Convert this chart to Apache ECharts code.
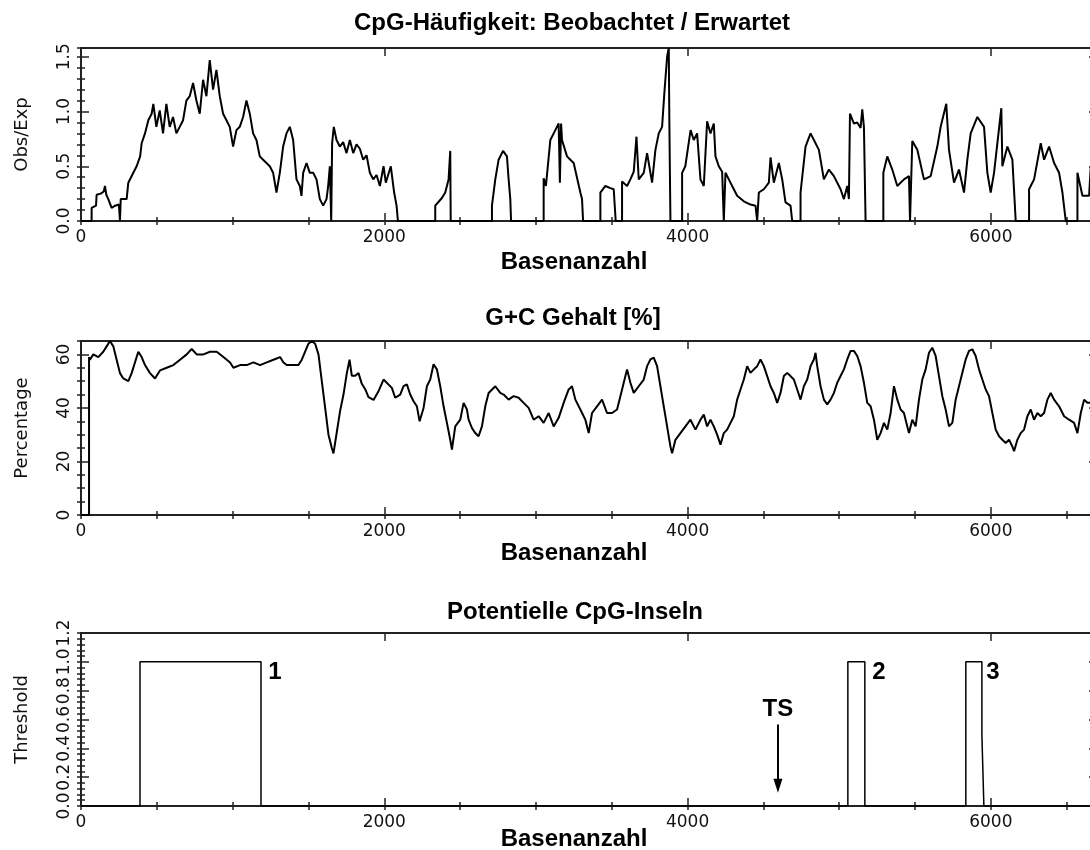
<!DOCTYPE html>
<html>
<head>
<meta charset="utf-8">
<title>CpG-Inseln</title>
<script src="https://cdn.jsdelivr.net/npm/echarts@6/dist/echarts.min.js"></script>
<style>
  html, body { margin: 0; padding: 0; background: #fff; overflow: hidden; }
  #main { width: 1110px; height: 850px; }
</style>
</head>
<body>
<div id="main"></div>
<script>
// CpG Obs/Exp entlang der Sequenz [Basenposition, Verhaeltnis]
var cpgPoints = [
  [0,0],[70,0],[70,0.12],[99,0.14],[103,0.24],[130,0.25],[150,0.27],[158,0.32],[167,0.24],[180,0.2],
  [202,0.12],[225,0.14],[250,0.15],[257,0],[262,0.2],[301,0.2],[312,0.35],[345,0.44],[367,0.5],[390,0.59],
  [400,0.71],[422,0.8],[444,0.92],[466,0.98],[477,1.07],[497,0.86],[519,1.01],[541,0.8],[563,1.07],[585,0.86],
  [607,0.95],[629,0.8],[651,0.86],[673,0.92],[695,1.1],[717,1.14],[739,1.26],[761,1.1],[783,0.98],[805,1.29],
  [827,1.14],[849,1.47],[871,1.2],[893,1.38],[915,1.14],[937,0.98],[959,0.92],[981,0.86],[1003,0.68],[1025,0.83],
  [1047,0.86],[1069,0.95],[1091,1.1],[1113,0.98],[1135,0.8],[1157,0.74],[1179,0.59],[1201,0.56],[1223,0.53],[1245,0.5],
  [1267,0.44],[1289,0.26],[1311,0.44],[1333,0.68],[1355,0.8],[1377,0.86],[1399,0.74],[1421,0.38],[1443,0.32],[1454,0.23],
  [1465,0.44],[1487,0.53],[1509,0.44],[1531,0.44],[1553,0.38],[1575,0.2],[1597,0.14],[1619,0.2],[1630,0.32],[1641,0.5],
  [1650,0],[1656,0.71],[1667,0.86],[1685,0.74],[1707,0.68],[1729,0.72],[1751,0.62],[1773,0.74],[1795,0.62],[1817,0.7],
  [1839,0.66],[1861,0.56],[1883,0.6],[1905,0.44],[1927,0.38],[1949,0.42],[1971,0.32],[1995,0.5],[2010,0.35],[2043,0.5],
  [2065,0.26],[2081,0.14],[2090,0],
  [2336,0],[2336,0.14],[2380,0.21],[2402,0.26],[2424,0.38],[2435,0.64],[2438,0],
  [2710,0],[2710,0.14],[2732,0.38],[2754,0.56],[2783,0.64],[2809,0.59],[2820,0.38],[2831,0.2],[2836,0],
  [3051,0],[3051,0.39],[3066,0.32],[3095,0.74],[3128,0.83],[3150,0.89],[3158,0.35],[3166,0.89],[3172,0.74],[3205,0.59],
  [3227,0.56],[3249,0.53],[3293,0.26],[3304,0.2],[3311,0],
  [3425,0],[3425,0.26],[3458,0.32],[3491,0.3],[3513,0.29],[3526,0],
  [3568,0],[3568,0.36],[3601,0.32],[3623,0.38],[3645,0.45],[3663,0.77],[3678,0.38],[3711,0.44],[3733,0.62],[3766,0.35],
  [3788,0.65],[3810,0.8],[3832,0.86],[3847,1.17],[3865,1.5],[3876,1.58],[3880,0.89],[3887,0],
  [3964,0],[3964,0.44],[3985,0.5],[4020,0.83],[4041,0.74],[4063,0.8],[4085,0.38],[4107,0.32],[4129,0.91],[4151,0.8],
  [4173,0.89],[4184,0.59],[4206,0.5],[4228,0.45],[4239,0],[4250,0.44],[4272,0.38],[4294,0.32],[4327,0.23],[4371,0.18],
  [4415,0.15],[4448,0.14],[4459,0],[4470,0.26],[4503,0.29],[4536,0.35],[4547,0.58],[4569,0.35],[4602,0.53],[4624,0.38],
  [4646,0.17],[4679,0.14],[4690,0],
  [4745,0],[4745,0.26],[4778,0.68],[4811,0.8],[4844,0.71],[4866,0.65],[4899,0.38],[4932,0.47],[4965,0.41],[5009,0.29],
  [5031,0.2],[5053,0.32],[5064,0.2],[5071,0.98],[5097,0.89],[5119,0.9],[5141,0.85],[5152,1.02],[5163,0.86],[5174,0],
  [5291,0],[5291,0.44],[5317,0.59],[5350,0.47],[5383,0.32],[5427,0.38],[5460,0.41],[5467,0],[5482,0.73],[5515,0.65],
  [5559,0.38],[5603,0.41],[5647,0.68],[5669,0.86],[5706,1.07],[5724,0.65],[5757,0.35],[5790,0.47],[5823,0.26],[5845,0.56],
  [5867,0.8],[5911,0.95],[5955,0.86],[5977,0.44],[5999,0.26],[6021,0.44],[6069,1.03],[6076,0.5],[6109,0.68],[6142,0.56],
  [6164,0],
  [6252,0],[6252,0.29],[6285,0.38],[6329,0.71],[6351,0.56],[6384,0.68],[6417,0.53],[6450,0.44],[6472,0.26],[6494,0],
  [6571,0],[6571,0.44],[6604,0.23],[6648,0.23],[6659,0.5],[6700,0.5]
];

// G+C Gehalt in Prozent [Basenposition, %]
var gcPoints = [
  [0,0],[53,0],[53,59],[59,58],[81,60],[114,59],[147,61],[169,63],[191,65],[213,63],
  [235,58],[257,53],[279,51],[312,50],[334,53],[356,57],[378,61],[400,59],[422,56],[455,53],
  [488,51],[521,54],[565,55],[609,56],[653,58],[697,60],[730,62],[763,60],[807,60],[851,61],
  [895,61],[939,59],[983,57],[1005,55],[1049,56],[1093,56],[1137,57],[1181,56],[1225,57],[1269,58],
  [1313,59],[1335,57],[1357,56],[1401,56],[1434,56],[1456,58],[1478,61],[1500,64],[1522,65],[1544,64],
  [1566,60],[1588,50],[1610,40],[1632,30],[1654,25],[1665,23],[1687,31],[1709,39],[1731,45],[1753,53],
  [1771,58],[1786,52],[1808,52],[1830,53],[1852,49],[1874,47],[1896,44],[1929,43],[1960,46],[1995,50.6],
  [2050,47.5],[2072,43.8],[2105,45],[2127,48.1],[2149,48.8],[2171,45],[2193,42.5],[2215,40.6],[2233,35],[2259,40],
  [2281,48.1],[2303,50.6],[2325,56.3],[2347,54.4],[2369,48.1],[2391,40.6],[2413,34.4],[2435,28.1],[2446,24.4],[2468,33.1],
  [2501,35.6],[2523,41.9],[2545,39.4],[2556,35.6],[2578,32.5],[2600,30.6],[2622,29.4],[2644,33.1],[2666,40.6],[2688,45.6],
  [2732,48.1],[2765,45.6],[2787,45],[2820,43.1],[2853,44.4],[2886,43.8],[2919,41.9],[2952,40],[2985,35.6],[3018,36.9],
  [3051,34.4],[3084,38.1],[3117,33.1],[3150,36.3],[3183,41.9],[3216,46.9],[3238,48.1],[3260,43.1],[3293,39.4],[3326,35.6],
  [3348,30.6],[3370,38.1],[3403,40.6],[3436,43.1],[3469,38.1],[3502,38.1],[3535,39.4],[3557,44.4],[3579,49.4],[3601,54.4],
  [3623,49.4],[3645,45.6],[3678,48.1],[3711,50.6],[3733,55.6],[3755,58.1],[3777,58.8],[3799,55.6],[3821,48.1],[3843,40.6],
  [3865,33.1],[3887,25.6],[3898,23.1],[3920,28.1],[3953,30.6],[3986,33.1],[4019,35.6],[4052,31.9],[4085,35.6],[4107,37.5],
  [4129,33.1],[4151,35.6],[4173,33.1],[4195,30],[4217,26.3],[4239,30.6],[4261,31.9],[4283,34.4],[4305,36.9],[4327,43.1],
  [4349,46.9],[4371,50.6],[4393,55.6],[4415,53.1],[4437,54.4],[4459,55.6],[4481,58.1],[4503,55.6],[4525,51.9],[4547,48.1],
  [4569,45.6],[4591,41.9],[4613,45.6],[4635,51.9],[4657,53.1],[4679,51.9],[4701,50.6],[4723,46.9],[4745,43.1],[4767,48.1],
  [4789,50.6],[4811,55.6],[4833,58.1],[4844,60.6],[4855,55.6],[4877,48.1],[4899,43.1],[4921,41.3],[4943,43.1],[4965,45.6],
  [4987,49.4],[5009,51.9],[5031,54.4],[5053,58.1],[5075,61.3],[5097,61.3],[5119,59.4],[5141,55.6],[5163,49.4],[5185,41.9],
  [5207,40.6],[5229,35.6],[5251,28.1],[5273,30.6],[5295,34.4],[5317,31.9],[5339,38.1],[5361,48.1],[5383,43.1],[5405,39.4],
  [5427,38.1],[5449,33.1],[5460,30.6],[5482,35.6],[5504,33.1],[5526,43.1],[5548,50.6],[5570,54.4],[5592,60.6],[5614,62.5],
  [5636,59.4],[5658,51.9],[5680,44.4],[5702,39.4],[5724,33.1],[5746,34.4],[5768,43.1],[5790,48.1],[5812,53.1],[5834,58.1],
  [5856,61.3],[5878,61.9],[5900,59.4],[5922,54.4],[5944,50.6],[5966,46.9],[5988,44.4],[6010,38.1],[6032,31.9],[6054,29.4],
  [6076,28.1],[6098,26.9],[6120,28.1],[6142,25.6],[6153,23.8],[6175,28.1],[6197,30.6],[6219,31.9],[6241,36.9],[6263,39.4],
  [6285,35.6],[6307,38.1],[6329,36.9],[6351,38.1],[6373,43.1],[6395,45.6],[6417,43.1],[6450,40.6],[6483,36.9],[6516,35.6],
  [6549,34.4],[6571,30.6],[6593,38.1],[6615,43.1],[6637,41.9],[6700,42]
];

// Umriss der potentiellen CpG-Inseln [Basenposition, Threshold]
var islandPoints = [
  [0,0],[389,0],[389,1],[1187,1],[1187,0],
  [5057,0],[5057,1],[5169,1],[5169,0],
  [5835,0],[5835,1],[5941,1],[5941,0.49],[5954,0.49],[5954,0],[6700,0]
];
var islandNames = ['1', '2', '3'];
var islandLabelPos = [[1279, 0.93], [5262, 0.93], [6013, 0.93]];
var tsPos = 4596;

var xMax = 6700;

var axisColor = '#222';
var tickFont = { fontFamily: 'DejaVu Sans', fontSize: 17, color: '#111' };
var boldFont = { fontFamily: 'Liberation Sans', fontWeight: 'bold', fontSize: 24, color: '#000' };

function xAxes(grid) {
  var base = { type: 'value', gridIndex: grid, min: 0, max: xMax, splitLine: { show: false } };
  var line = { show: true, onZero: false, lineStyle: { color: axisColor, width: 2 } };
  return [
    Object.assign({}, base, { position: 'bottom', interval: 2000, axisLine: line,
      axisTick: { inside: true, length: 8, lineStyle: { color: axisColor, width: 1.5 } },
      axisLabel: Object.assign({ margin: 8, showMaxLabel: false, formatter: function (v) { return String(v); } }, tickFont) }),
    Object.assign({}, base, { position: 'bottom', interval: 500, axisLine: { show: false },
      axisTick: { inside: true, length: 4, lineStyle: { color: axisColor, width: 1.5 } },
      axisLabel: { show: false } }),
    Object.assign({}, base, { position: 'top', interval: 2000, axisLine: line,
      axisTick: { inside: true, length: 8, lineStyle: { color: axisColor, width: 1.5 } },
      axisLabel: { show: false } }),
    Object.assign({}, base, { position: 'top', interval: 500, axisLine: { show: false },
      axisTick: { inside: true, length: 4, lineStyle: { color: axisColor, width: 1.5 } },
      axisLabel: { show: false } })
  ];
}

function yAxes(grid, name, max, major, minor, fmt, showMax) {
  var base = { type: 'value', gridIndex: grid, min: 0, max: max, splitLine: { show: false } };
  var line = { show: true, onZero: false, lineStyle: { color: axisColor, width: 2 } };
  return [
    Object.assign({}, base, { position: 'left', interval: major, axisLine: line,
      name: name, nameLocation: 'middle', nameGap: 50,
      nameTextStyle: { fontFamily: 'DejaVu Sans', fontSize: 18, color: '#111' },
      axisTick: { inside: true, length: 8, lineStyle: { color: axisColor, width: 1.5 } },
      axisLabel: Object.assign({ margin: 8, rotate: 90, showMaxLabel: showMax, formatter: fmt }, tickFont) }),
    Object.assign({}, base, { position: 'left', interval: minor, axisLine: { show: false },
      axisTick: { inside: true, length: 4, lineStyle: { color: axisColor, width: 1.5 } },
      axisLabel: { show: false } }),
    Object.assign({}, base, { position: 'right', interval: major, axisLine: line,
      axisTick: { inside: true, length: 8, lineStyle: { color: axisColor, width: 1.5 } },
      axisLabel: { show: false } }),
    Object.assign({}, base, { position: 'right', interval: minor, axisLine: { show: false },
      axisTick: { inside: true, length: 4, lineStyle: { color: axisColor, width: 1.5 } },
      axisLabel: { show: false } })
  ];
}

function oneDecimal(v) { return v.toFixed(1); }

function title(text, x, y) {
  return { text: text, left: x, top: y, textAlign: 'center', padding: 0, textStyle: boldFont };
}

var chart = echarts.init(document.getElementById('main'), null, { renderer: 'canvas' });

var option = {
  animation: false,
  backgroundColor: '#fff',
  title: [
    title('CpG-Häufigkeit: Beobachtet / Erwartet', 572, 11),
    title('Basenanzahl', 574, 250),
    title('G+C Gehalt [%]', 573, 306),
    title('Basenanzahl', 574, 541),
    title('Potentielle CpG-Inseln', 575, 600),
    title('Basenanzahl', 574, 827)
  ],
  grid: [
    { left: 81, top: 48, width: 1016, height: 173, outerBoundsMode: 'none' },
    { left: 81, top: 341, width: 1016, height: 174, outerBoundsMode: 'none' },
    { left: 81, top: 633, width: 1016, height: 173, outerBoundsMode: 'none' }
  ],
  xAxis: [].concat(xAxes(0), xAxes(1), xAxes(2)),
  yAxis: [].concat(
    yAxes(0, 'Obs/Exp', 1.58, 0.5, 0.1, oneDecimal, false),
    yAxes(1, 'Percentage', 65, 20, 5, function (v) { return String(v); }, false),
    yAxes(2, 'Threshold', 1.2, 0.2, 0.04, oneDecimal, true)
  ),
  series: [
    {
      name: 'Obs/Exp', type: 'line', xAxisIndex: 0, yAxisIndex: 0,
      data: cpgPoints, showSymbol: false, symbol: 'none',
      lineStyle: { color: '#000', width: 2 }
    },
    {
      name: 'G+C', type: 'line', xAxisIndex: 4, yAxisIndex: 4,
      data: gcPoints, showSymbol: false, symbol: 'none',
      lineStyle: { color: '#000', width: 2 }
    },
    {
      name: 'Inseln', type: 'line', xAxisIndex: 8, yAxisIndex: 8,
      data: islandPoints, showSymbol: false, symbol: 'none',
      lineStyle: { color: '#000', width: 1.5 },
      markLine: {
        silent: true,
        symbol: ['none', 'triangle'],
        symbolSize: [9, 14],
        lineStyle: { color: '#000', width: 2, type: 'solid' },
        label: Object.assign({ show: true, position: 'start', formatter: 'TS', distance: 3 }, boldFont),
        data: [[{ coord: [tsPos, 0.565] }, { coord: [tsPos, 0.14] }]]
      }
    },
    {
      name: 'Nummern', type: 'scatter', xAxisIndex: 8, yAxisIndex: 8,
      symbolSize: 0, itemStyle: { color: '#000', opacity: 1 },
      data: islandNames.map(function (n, i) { return { name: n, value: islandLabelPos[i] }; }),
      label: Object.assign({ show: true, position: 'inside', formatter: '{b}', textBorderWidth: 0, opacity: 1 }, boldFont)
    }
  ]
};

chart.setOption(option);
</script>
</body>
</html>
